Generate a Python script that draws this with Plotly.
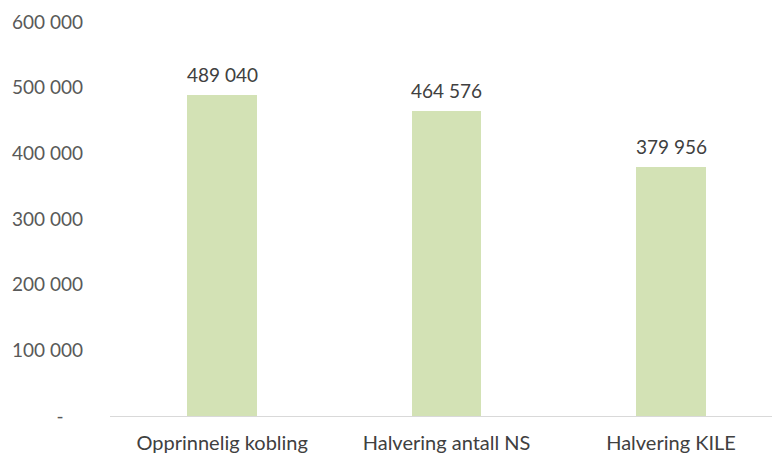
import plotly.graph_objects as go

categories = ["Opprinnelig kobling", "Halvering antall NS", "Halvering KILE"]
values = [489040, 464576, 379956]
tick_values = [0, 100000, 200000, 300000, 400000, 500000, 600000]
tick_labels = ["-\u00a0\u00a0\u00a0\u00a0", "100 000", "200 000", "300 000", "400 000", "500 000", "600 000"]


def fmt(v):
    return f"{v:,}".replace(",", " ")


FONT = "Lato, 'Open Sans', sans-serif"

fig = go.Figure(
    go.Bar(
        x=categories,
        y=values,
        width=0.31,
        marker=dict(color="#d3e2b5", line=dict(width=0)),
        cliponaxis=False,
    )
)

# value labels above each bar
for cat, v in zip(categories, values):
    fig.add_annotation(
        x=cat,
        y=v,
        text=fmt(v),
        showarrow=False,
        yanchor="bottom",
        yshift=7,
        font=dict(family=FONT, size=19, color="#404040"),
    )

fig.update_layout(
    width=772,
    height=456,
    margin=dict(l=110, r=0, t=22, b=40),
    paper_bgcolor="white",
    plot_bgcolor="white",
    showlegend=False,
    font=dict(family=FONT, color="#595959"),
    bargap=0,
)

fig.update_xaxes(
    range=[-0.5, 2.45],
    showline=True,
    linecolor="#d9d9d9",
    linewidth=1,
    showgrid=False,
    ticks="",
    tickfont=dict(family=FONT, size=20, color="#404040"),
    ticklabelstandoff=9,
)

fig.update_yaxes(
    range=[0, 600000],
    tickvals=tick_values,
    ticktext=tick_labels,
    showgrid=False,
    zeroline=False,
    showline=False,
    ticks="",
    tickfont=dict(family=FONT, size=19, color="#595959"),
    ticklabelstandoff=26,
)

fig.write_html("out.html")
